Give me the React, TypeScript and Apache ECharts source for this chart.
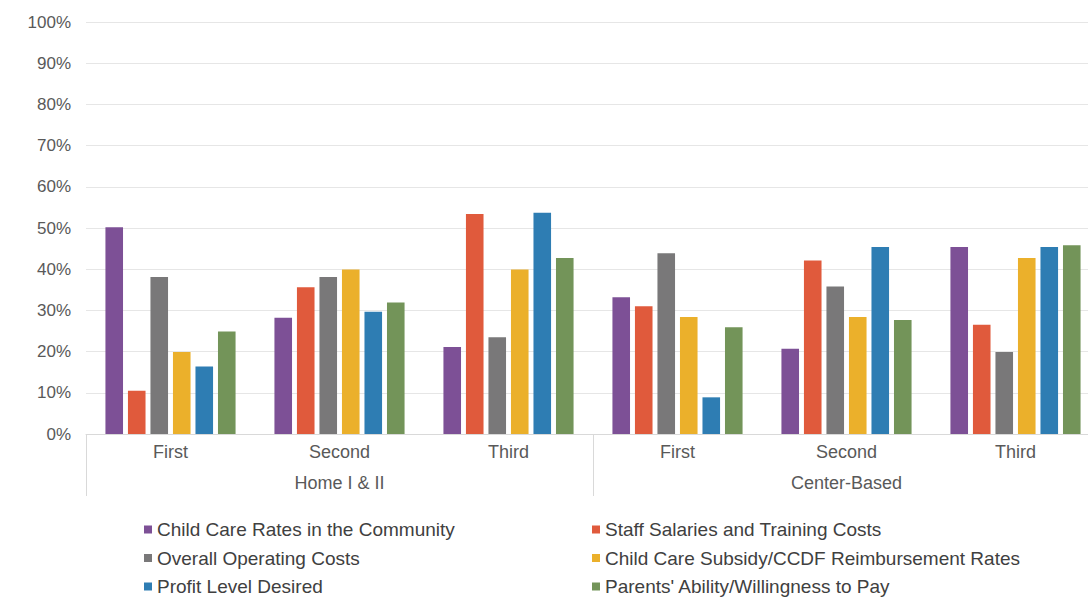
import React, { useEffect, useRef } from "react";
import * as echarts from "echarts";

const subCategories = ["First", "Second", "Third", "First", "Second", "Third"];
const groups = ["Home I & II", "Center-Based"];
const seriesNames = [
  "Child Care Rates in the Community",
  "Staff Salaries and Training Costs",
  "Overall Operating Costs",
  "Child Care Subsidy/CCDF Reimbursement Rates",
  "Profit Level Desired",
  "Parents' Ability/Willingness to Pay",
];
const colors = ["#7D5096", "#E05A3C", "#797879", "#EBB02B", "#2E7DB3", "#739459"];

const childCareRates = [50.2, 28.2, 21.1, 33.2, 20.7, 45.4];
const staffSalaries = [10.5, 35.6, 53.4, 31.0, 42.1, 26.5];
const operatingCosts = [38.1, 38.1, 23.5, 43.9, 35.8, 19.9];
const subsidyRates = [19.9, 39.9, 39.9, 28.4, 28.4, 42.7];
const profitLevel = [16.4, 29.7, 53.7, 8.9, 45.4, 45.4];
const parentsAbility = [24.9, 31.9, 42.7, 25.9, 27.7, 45.8];

const seriesValues = [
  childCareRates,
  staffSalaries,
  operatingCosts,
  subsidyRates,
  profitLevel,
  parentsAbility,
];

const yTicks = [0, 10, 20, 30, 40, 50, 60, 70, 80, 90, 100];

export default function App() {
  const ref = useRef<HTMLDivElement>(null);
  useEffect(() => {
    if (!ref.current) return;
    const chart = echarts.init(ref.current, null, { renderer: "svg" });
    const font = "'Liberation Sans', Arial, Helvetica, sans-serif";
    const legendText = { fontSize: 19, color: "#404040", fontFamily: font };
    chart.setOption({
      animation: false,
      backgroundColor: "#ffffff",
      textStyle: { fontFamily: font },
      grid: { left: 86, right: 0, top: 22, bottom: 165, containLabel: false },
      legend: [
        {
          orient: "vertical",
          left: 144,
          top: 520,
          padding: 0,
          itemGap: 9.5,
          itemWidth: 8,
          itemHeight: 8,
          icon: "rect",
          data: [seriesNames[0], seriesNames[2], seriesNames[4]],
          textStyle: legendText,
        },
        {
          orient: "vertical",
          left: 592,
          top: 520,
          padding: 0,
          itemGap: 9.5,
          itemWidth: 8,
          itemHeight: 8,
          icon: "rect",
          data: [seriesNames[1], seriesNames[3], seriesNames[5]],
          textStyle: legendText,
        },
      ],
      xAxis: [
        {
          type: "category",
          data: subCategories,
          position: "bottom",
          axisLine: { show: true, lineStyle: { color: "#d9d9d9", width: 1 } },
          axisTick: { show: false },
          axisLabel: { color: "#595959", fontSize: 18, margin: 9, fontFamily: font },
        },
        {
          type: "category",
          data: groups,
          position: "bottom",
          axisLine: { show: false },
          axisTick: { show: true, length: 62, lineStyle: { color: "#d9d9d9", width: 1 } },
          axisLabel: { color: "#595959", fontSize: 18, margin: 40, fontFamily: font },
        },
      ],
      yAxis: {
        type: "value",
        min: 0,
        max: 100,
        interval: 10,
        axisLine: { show: false },
        axisTick: { show: false },
        splitLine: { lineStyle: { color: "#e6e6e6", width: 1 } },
        axisLabel: {
          color: "#595959",
          fontSize: 17,
          margin: 15,
          fontFamily: font,
          formatter: (v: number) => (yTicks.includes(v) ? v + "%" : ""),
        },
      },
      series: seriesNames.map((name, i) => ({
        name,
        type: "bar",
        xAxisIndex: 0,
        data: seriesValues[i],
        barGap: "28%",
        barCategoryGap: "23%",
        itemStyle: { color: colors[i] },
      })),
    });
    return () => chart.dispose();
  }, []);
  return (
    <div style={{ position: "fixed", left: 0, top: 0, width: 1088, height: 599, overflow: "hidden" }}>
      <div ref={ref} style={{ width: 1100, height: 599 }} />
    </div>
  );
}
